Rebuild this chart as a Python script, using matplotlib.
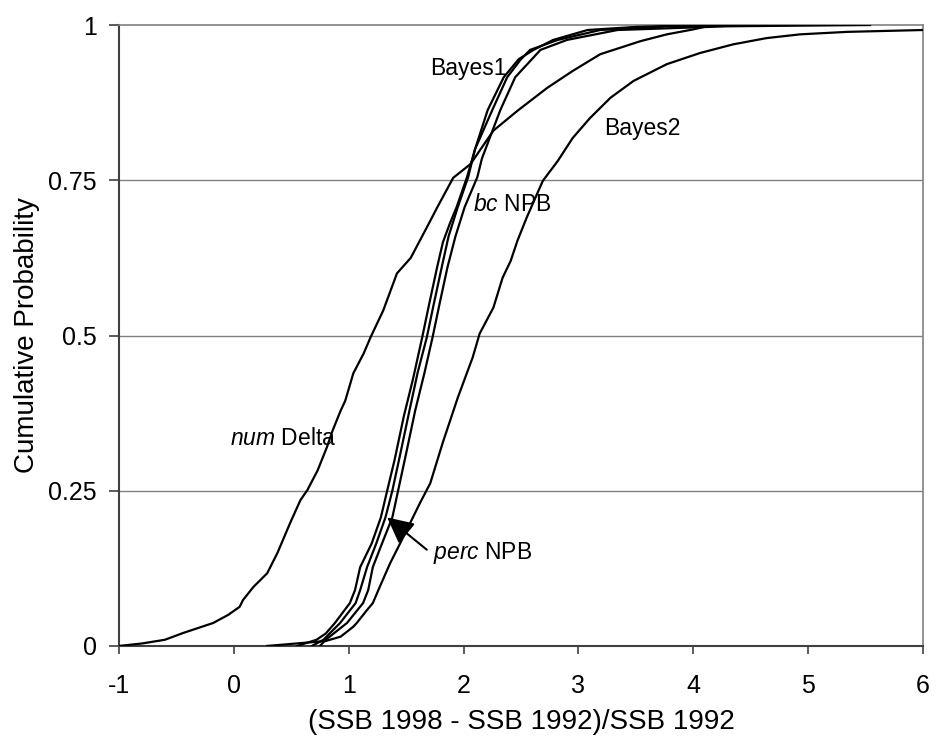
#!/usr/bin/python
import numpy as np
import matplotlib
matplotlib.use("Agg")
import matplotlib.pyplot as plt

# ---------- DATA ----------
# cumulative distributions of (SSB 1998 - SSB 1992)/SSB 1992

num_delta_x = [-1.0, -0.8, -0.6, -0.44, -0.18, -0.05, 0.05, 0.08, 0.17, 0.29, 0.38, 0.49,
               0.58, 0.64, 0.73, 0.81, 0.86, 0.93, 0.97, 1.04, 1.13, 1.19, 1.30, 1.42,
               1.54, 1.68, 1.77, 1.91, 2.06, 2.26, 2.47, 2.73, 2.95, 3.19, 3.54, 3.77,
               4.00, 4.12, 4.25]
num_delta_p = [0.0, 0.004, 0.010, 0.021, 0.037, 0.050, 0.063, 0.074, 0.095, 0.117, 0.150, 0.198,
               0.235, 0.251, 0.283, 0.320, 0.347, 0.379, 0.395, 0.439, 0.471, 0.497, 0.540, 0.600,
               0.625, 0.674, 0.706, 0.754, 0.776, 0.830, 0.862, 0.899, 0.926, 0.953, 0.974, 0.985,
               0.993, 0.998, 1.0]

bayes1_x = [0.55, 0.72, 0.80, 0.88, 1.01, 1.055, 1.10, 1.20, 1.28, 1.335, 1.40, 1.48, 1.56,
            1.64, 1.70, 1.77, 1.82, 1.88, 1.94, 2.03, 2.10, 2.21, 2.35, 2.48, 2.61, 2.78,
            3.08, 3.50, 4.06]
bayes1_p = [0.0, 0.010, 0.020, 0.037, 0.069, 0.090, 0.127, 0.165, 0.207, 0.250, 0.300, 0.370, 0.430,
            0.497, 0.550, 0.610, 0.650, 0.680, 0.707, 0.755, 0.800, 0.863, 0.916, 0.945, 0.960, 0.976,
            0.992, 0.997, 1.0]

perc_npb_x = [0.68, 0.78, 0.925, 1.06, 1.10, 1.16, 1.24, 1.32, 1.38, 1.45, 1.53, 1.60, 1.68,
              1.74, 1.81, 1.87, 1.95, 2.04, 2.10, 2.25, 2.38, 2.50, 2.58, 2.82, 3.19, 3.80, 4.50]
perc_npb_p = [0.0, 0.010, 0.037, 0.069, 0.090, 0.127, 0.165, 0.207, 0.250, 0.310, 0.380, 0.440, 0.497,
              0.550, 0.610, 0.660, 0.707, 0.755, 0.800, 0.863, 0.916, 0.945, 0.960, 0.976, 0.992, 0.998, 1.0]

bc_npb_x = [0.75, 0.80, 0.985, 1.125, 1.17, 1.21, 1.29, 1.38, 1.43, 1.50, 1.58, 1.66, 1.73,
            1.79, 1.86, 1.93, 2.01, 2.12, 2.16, 2.32, 2.45, 2.67, 2.90, 3.34, 4.30, 5.54]
bc_npb_p = [0.0, 0.010, 0.037, 0.069, 0.090, 0.127, 0.165, 0.207, 0.250, 0.310, 0.380, 0.440, 0.497,
            0.550, 0.610, 0.660, 0.707, 0.755, 0.785, 0.863, 0.916, 0.960, 0.976, 0.992, 0.998, 1.0]

bayes2_x = [0.29, 0.80, 0.93, 1.04, 1.07, 1.16, 1.21, 1.27, 1.36, 1.45, 1.535, 1.62, 1.71,
            1.82, 1.95, 2.08, 2.14, 2.26, 2.34, 2.41, 2.47, 2.55, 2.69, 2.82, 2.95, 3.10,
            3.28, 3.48, 3.77, 4.06, 4.35, 4.64, 4.93, 5.34, 6.0]
bayes2_p = [0.0, 0.008, 0.015, 0.031, 0.037, 0.058, 0.069, 0.095, 0.133, 0.166, 0.198, 0.230, 0.262,
            0.328, 0.400, 0.465, 0.503, 0.545, 0.593, 0.620, 0.653, 0.690, 0.749, 0.781, 0.818, 0.850,
            0.883, 0.910, 0.937, 0.955, 0.969, 0.979, 0.985, 0.989, 0.992]

x_ticks = [-1, 0, 1, 2, 3, 4, 5, 6]
y_ticks = [0, 0.25, 0.5, 0.75, 1]
y_tick_labels = ["0", "0.25", "0.5", "0.75", "1"]

# ---------- PLOTTING ----------

def plot_cdfs(outfile):
    plt.rcParams["font.family"] = ["Liberation Sans", "DejaVu Sans"]
    plt.rcParams["mathtext.fontset"] = "custom"
    plt.rcParams["mathtext.rm"] = "Liberation Sans"
    plt.rcParams["mathtext.it"] = "Liberation Sans:italic"

    fig = plt.figure(figsize=(9.37, 7.43), dpi=100)
    ax = fig.add_axes([0.127, 0.1306, 0.858, 0.8357])

    curves = [(num_delta_x, num_delta_p), (bayes1_x, bayes1_p), (perc_npb_x, perc_npb_p),
              (bc_npb_x, bc_npb_p), (bayes2_x, bayes2_p)]
    for xs, ps in curves:
        ax.plot(xs, ps, color="black", linewidth=1.6, zorder=3)

    ax.set_xlim(-1, 6)
    ax.set_ylim(0, 1)
    ax.set_xticks(x_ticks)
    ax.set_xticklabels([str(t) for t in x_ticks])
    ax.set_yticks(y_ticks)
    ax.set_yticklabels(y_tick_labels)

    # horizontal gridlines only, Excel style
    for y in y_ticks[1:-1]:
        ax.axhline(y, color="#808080", linewidth=1.0, zorder=1)

    for side in ("left", "bottom"):
        ax.spines[side].set_color("#404040")
        ax.spines[side].set_linewidth(1.5)
    for side in ("top", "right"):
        ax.spines[side].set_color("#808080")
        ax.spines[side].set_linewidth(1.2)

    ax.tick_params(axis="y", direction="out", length=7, width=1.2, color="#404040",
                   labelsize=18, pad=9)
    ax.tick_params(axis="x", direction="out", length=6, width=1.2, color="#404040",
                   labelsize=18, pad=14)

    ax.set_xlabel("(SSB 1998 - SSB 1992)/SSB 1992", fontsize=20, labelpad=8)
    ax.set_ylabel("Cumulative Probability", fontsize=20, labelpad=6)

    # curve labels
    fs = 16.5
    ax.text(1.71, 0.93, "Bayes1", fontsize=fs, va="center", ha="left")
    ax.text(3.22, 0.833, "Bayes2", fontsize=fs, va="center", ha="left")
    ax.text(2.08, 0.711, r"$\mathit{bc}$ NPB", fontsize=fs, va="center", ha="left")
    ax.text(-0.035, 0.334, r"$\mathit{num}$ Delta", fontsize=fs, va="center", ha="left")
    ax.text(1.735, 0.15, r"$\mathit{perc}$ NPB", fontsize=fs, va="center", ha="left")
    ax.annotate("", xy=(1.335, 0.207), xytext=(1.68, 0.155),
                arrowprops=dict(arrowstyle="-|>,head_length=0.4,head_width=0.2",
                                mutation_scale=40, color="black", lw=1.5,
                                shrinkA=0, shrinkB=0))

    fig.savefig(outfile, dpi=100)


def main():
    plot_cdfs("out.png")


if __name__ == "__main__":
    main()
